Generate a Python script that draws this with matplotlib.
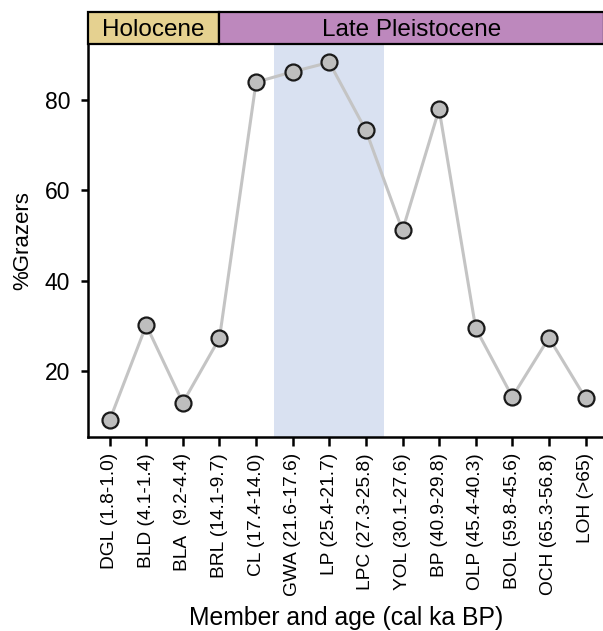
import matplotlib
matplotlib.use("Agg")
import matplotlib.pyplot as plt
from matplotlib.patches import Rectangle

plt.rcParams['font.family'] = ['Liberation Sans', 'DejaVu Sans']

members = ["DGL (1.8-1.0)", "BLD (4.1-1.4)", "BLA  (9.2-4.4)", "BRL (14.1-9.7)",
           "CL (17.4-14.0)", "GWA (21.6-17.6)", "LP (25.4-21.7)", "LPC (27.3-25.8)",
           "YOL (30.1-27.6)", "BP (40.9-29.8)", "OLP (45.4-40.3)", "BOL (59.8-45.6)",
           "OCH (65.3-56.8)", "LOH (>65)"]
grazers = [9.0, 30.1, 12.9, 27.2, 84.0, 86.3, 88.4, 73.3, 51.1, 78.0, 29.4, 14.2, 27.3, 13.9]
yticks = [20, 40, 60, 80]
epochs = ["Holocene", "Late Pleistocene"]
epoch_bounds = [(-0.6, 3.0), (3.0, 13.5)]
shade_span = (4.5, 7.5)

fig = plt.figure(figsize=(6.03, 6.31), dpi=100)
ax = fig.add_axes([0.1454, 0.3075, 0.8560, 0.6223])
band = fig.add_axes([0.1454, 0.9298, 0.8560, 0.0517])

xlim = (-0.6, 13.5)
ax.axvspan(*shade_span, color='#D9E1F1', zorder=0, lw=0)
x = list(range(len(members)))
ax.plot(x, grazers, color='#C4C4C4', lw=2.2, zorder=2)
ax.plot(x, grazers, 'o', ms=11.5, mfc='#BEBEBE', mec='#1a1a1a', mew=1.6, zorder=3, ls='none')

ax.set_xlim(*xlim)
ax.set_ylim(5.3, 92.4)
ax.set_xticks(x)
ax.set_xticklabels(members, rotation=90, fontsize=13.8)
ax.set_yticks(yticks)
ax.tick_params(axis='y', labelsize=16.5, width=1.8, length=5, pad=7.5)
ax.tick_params(axis='x', width=1.8, length=6.5, pad=5)
for s in ['top', 'right']:
    ax.spines[s].set_visible(False)
for s in ['left', 'bottom']:
    ax.spines[s].set_linewidth(1.8)
ax.set_ylabel('%Grazers', fontsize=16, labelpad=8)
ax.set_xlabel('Member and age (cal ka BP)', fontsize=17.8, labelpad=7)

colors = ['#E5D190', '#BD88BD']
band.set_xlim(*xlim)
band.set_ylim(0, 1)
band.axis('off')
for name, (a, b), c in zip(epochs, epoch_bounds, colors):
    band.add_patch(Rectangle((a, 0), b - a, 1, facecolor=c, edgecolor='black', lw=1.6, clip_on=False))
    band.text((a + b) / 2, 0.45, name, ha='center', va='center', fontsize=17.5)

fig.savefig('out.png', dpi=100)
